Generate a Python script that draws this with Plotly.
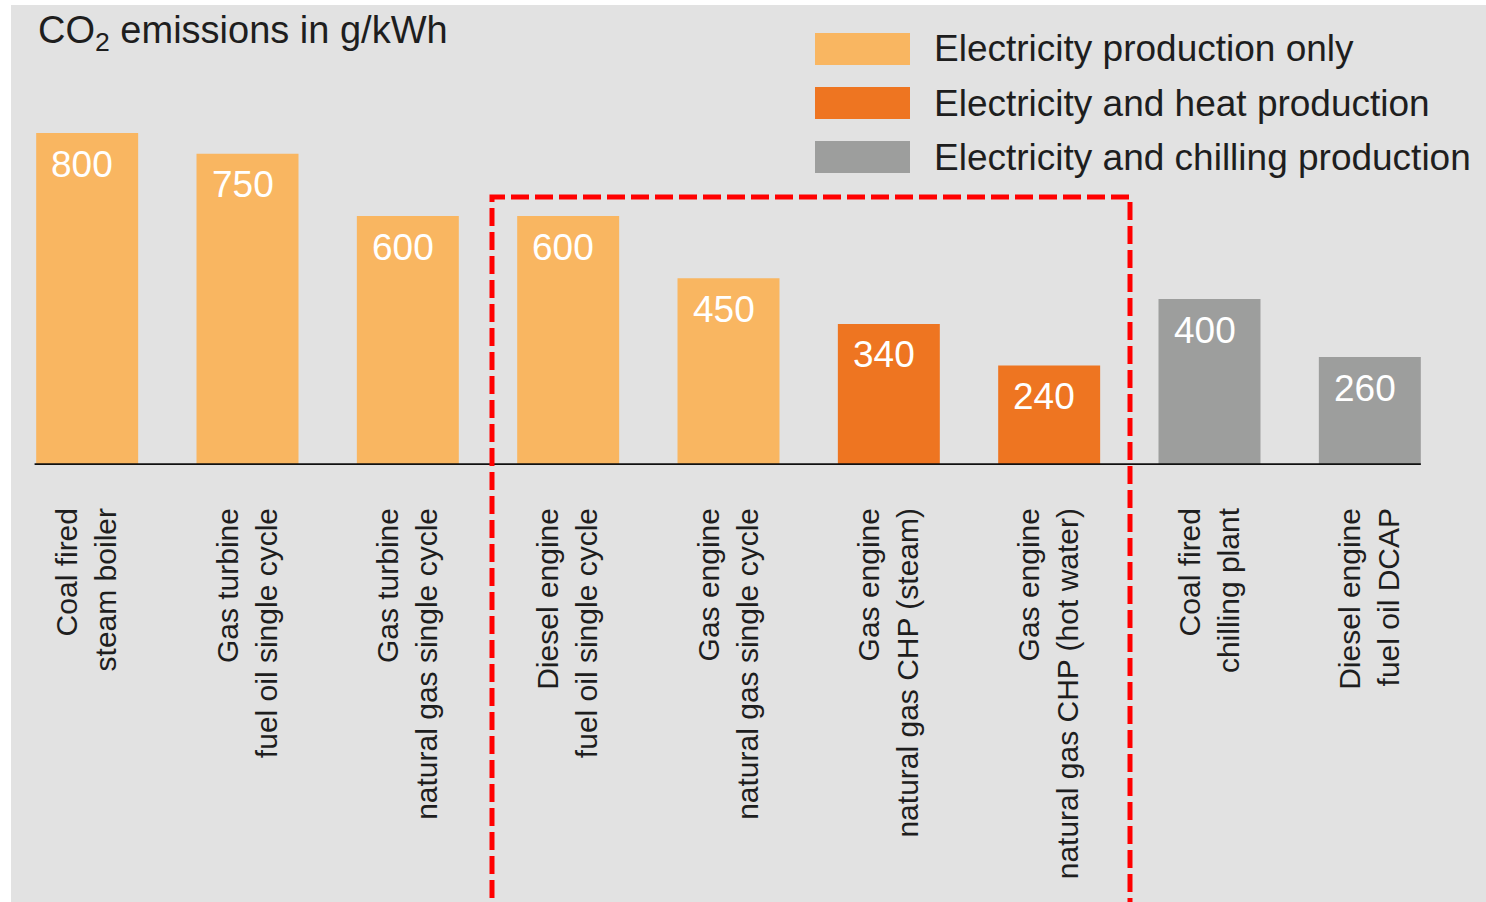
import plotly.graph_objects as go

# ---------------- data ----------------
categories = [
    "Coal fired<br>steam boiler",
    "Gas turbine<br>fuel oil single cycle",
    "Gas turbine<br>natural gas single cycle",
    "Diesel engine<br>fuel oil single cycle",
    "Gas engine<br>natural gas single cycle",
    "Gas engine<br>natural gas CHP (steam)",
    "Gas engine<br>natural gas CHP (hot water)",
    "Coal fired<br>chilling plant",
    "Diesel engine<br>fuel oil DCAP",
]
values = [800, 750, 600, 600, 450, 340, 240, 400, 260]
group_index = [0, 0, 0, 0, 0, 1, 1, 2, 2]
group_names = [
    "Electricity production only",
    "Electricity and heat production",
    "Electricity and chilling production",
]
group_colors = ["#F9B661", "#EE7521", "#9D9E9D"]
title_text = "CO<sub>2</sub> emissions in g/kWh"

# ---------------- layout helpers ----------------
W, H = 1486, 902
ML, MR, MT, MB = 7, 36, 0, 437
PW, PH = W - ML - MR, H - MT - MB
BG = "#E2E2E2"
FONT = "Liberation Sans, Arial, Helvetica, sans-serif"
TXT = "#1E1E1E"
n = len(values)
bar_w = 0.636


def px(x):
    return (x - ML) / PW


def py(y):
    return (H - MB - y) / PH


fig = go.Figure()
fig.add_trace(go.Bar(
    x=list(range(n)), y=values, width=bar_w,
    marker=dict(color=[group_colors[g] for g in group_index], line=dict(width=0)),
    showlegend=False, hoverinfo="skip",
))

annotations = []
# value labels inside bars
for i, v in enumerate(values):
    annotations.append(dict(
        x=i, y=v, xref="x", yref="y", text=str(v), showarrow=False,
        xanchor="center", yanchor="middle", xshift=-5, yshift=-31,
        font=dict(family=FONT, size=37, color="white"),
    ))

# title
annotations.append(dict(
    x=px(36), y=py(33), xref="paper", yref="paper", text=title_text,
    showarrow=False, xanchor="left", yanchor="middle",
    font=dict(family=FONT, size=38, color=TXT),
))

shapes = []
# white outer margin strips
shapes.append(dict(type="rect", xref="paper", yref="paper", x0=px(-5), x1=px(11),
                   y0=py(H + 5), y1=py(-5), fillcolor="white", line=dict(width=0), layer="below"))
shapes.append(dict(type="rect", xref="paper", yref="paper", x0=px(-5), x1=px(W + 5),
                   y0=py(5), y1=py(-5), fillcolor="white", line=dict(width=0), layer="below"))

# legend (swatches + labels)
legend_centers = [49, 103, 157]
for k, name in enumerate(group_names):
    cy = legend_centers[k]
    shapes.append(dict(type="rect", xref="paper", yref="paper",
                       x0=px(815), x1=px(910), y0=py(cy + 16), y1=py(cy - 16),
                       fillcolor=group_colors[k], line=dict(width=0)))
    annotations.append(dict(
        x=px(932), y=py(cy), xref="paper", yref="paper", text=name,
        showarrow=False, xanchor="left", yanchor="middle",
        font=dict(family=FONT, size=37, color=TXT),
    ))

# baseline
shapes.append(dict(type="line", xref="x", yref="y",
                   x0=-bar_w / 2 - 0.01, x1=n - 1 + bar_w / 2, y0=0, y1=0,
                   line=dict(color="#111111", width=3.5)))

# red dashed highlight frame (open at the bottom)
hx0, hx1 = px(492), px(1130)
ytop = py(197)
ybot = py(H + 20)
shapes.append(dict(type="path", xref="paper", yref="paper",
                   path=f"M {hx0},{ybot} L {hx0},{ytop} L {hx1},{ytop} L {hx1},{ybot}",
                   line=dict(color="#FF0000", width=5, dash="18px,6px")))

fig.update_layout(
    width=W, height=H,
    margin=dict(l=ML, r=MR, t=MT, b=MB, pad=0),
    paper_bgcolor=BG, plot_bgcolor="rgba(0,0,0,0)",
    showlegend=False,
    annotations=annotations, shapes=shapes,
    xaxis=dict(range=[-0.5, n - 0.5], tickmode="array", tickvals=list(range(n)),
               ticktext=categories, tickangle=-90, showgrid=False, zeroline=False,
               showline=False, ticks="", ticklabelstandoff=36,
               tickfont=dict(family=FONT, size=30, color=TXT), fixedrange=True),
    yaxis=dict(range=[0, PH / 0.415], visible=False, fixedrange=True),
)

fig.write_html("out.html", post_script="document.body.style.margin='0';",
               config={"displayModeBar": False})
